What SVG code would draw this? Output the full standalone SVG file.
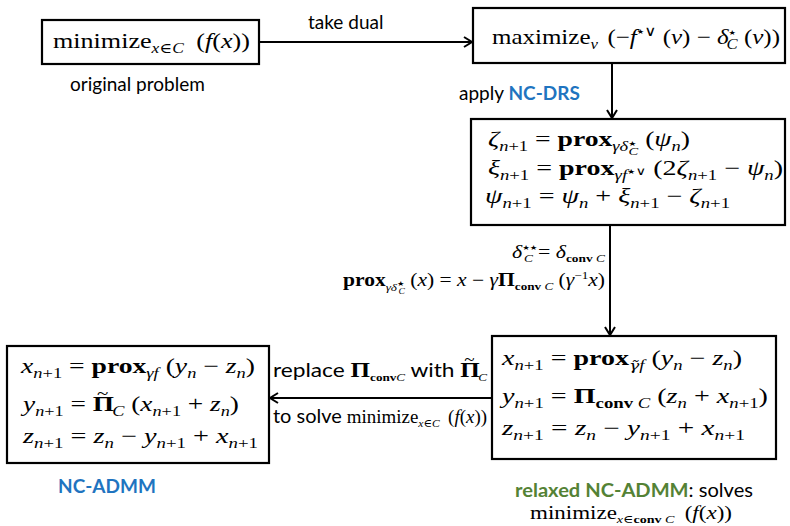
<svg xmlns="http://www.w3.org/2000/svg" width="790" height="526" viewBox="0 0 790 526">
<defs>
<marker id="ah" markerWidth="14" markerHeight="14" refX="11" refY="7" orient="auto" markerUnits="userSpaceOnUse">
<path d="M3,2 L11,7 L3,12" fill="none" stroke="#000" stroke-width="2"/>
</marker>
<style>
.box{fill:#fff;stroke:#000;stroke-width:2.2}
.ln{stroke:#000;stroke-width:2;fill:none}
.m{font-family:"Liberation Serif","DejaVu Serif",serif;font-size:21px;fill:#000}
.ml{font-family:"Liberation Serif","DejaVu Serif",serif;font-size:18px;fill:#000}
.s{font-family:"Lato","Liberation Sans",sans-serif;font-size:19px;fill:#000}
.i{font-style:italic}
.b{font-weight:bold}
.sb{font-size:14px}
.ss{font-size:11px}
.st{font-family:"DejaVu Sans",sans-serif;font-size:7px;font-style:normal;font-weight:normal}
.sr{font-family:"Liberation Serif","DejaVu Serif",serif}
.dj{font-family:"DejaVu Serif",serif}
.tl{font-family:"Liberation Serif","DejaVu Serif",serif;font-size:16px;font-weight:normal;font-style:normal}
.blue{fill:#1f74c0;font-weight:bold}
.green{fill:#548235;font-weight:bold}
</style>
</defs>

<g id="connectors">
<line class="ln" x1="259" y1="42" x2="472" y2="42" marker-end="url(#ah)"/>
<line class="ln" x1="612" y1="63" x2="612" y2="118" marker-end="url(#ah)"/>
<line class="ln" x1="610" y1="225" x2="610" y2="335" marker-end="url(#ah)"/>
<line class="ln" x1="492" y1="398" x2="270" y2="398" marker-end="url(#ah)"/>
<text class="s" x="308" y="29">take dual</text>
<text class="s" x="459" y="100">apply <tspan class="blue">NC-DRS</tspan></text>
<text class="ml" x="605" y="258" text-anchor="end" textLength="93" lengthAdjust="spacingAndGlyphs"><tspan class="i">δ</tspan><tspan class="st" baseline-shift="8">★★</tspan><tspan class="ss i" dx="-11" baseline-shift="-4">C</tspan><tspan dx="4">=</tspan> <tspan class="i">δ</tspan><tspan class="ss" baseline-shift="-4"><tspan class="b">conv</tspan> <tspan class="i">C</tspan></tspan></text>
<text class="ml" x="605" y="286" text-anchor="end" textLength="262" lengthAdjust="spacingAndGlyphs"><tspan class="b">prox</tspan><tspan class="ss" baseline-shift="-5"><tspan class="i">γδ</tspan><tspan class="st" font-size="6" baseline-shift="5">★</tspan><tspan font-size="8" class="i" dx="-5" baseline-shift="-3">C</tspan></tspan> (<tspan class="i">x</tspan>) = <tspan class="i">x</tspan> − <tspan class="i">γ</tspan><tspan class="b">Π</tspan><tspan class="ss" baseline-shift="-4"><tspan class="b">conv</tspan> <tspan class="i">C</tspan></tspan> (<tspan class="i">γ</tspan><tspan class="ss" baseline-shift="7">−1</tspan><tspan class="i">x</tspan>)</text>
<text class="s" x="273" y="377" textLength="214" lengthAdjust="spacingAndGlyphs">replace <tspan class="m b">Π</tspan><tspan class="ss sr" baseline-shift="-4"><tspan class="b">conv</tspan><tspan class="i">C</tspan></tspan> with <tspan class="m b">Π</tspan><tspan class="tl" dx="-13" baseline-shift="12">~</tspan><tspan class="ss i sr" dx="3" baseline-shift="-4">C</tspan></text>
<text class="s" x="273" y="423" textLength="214" lengthAdjust="spacingAndGlyphs">to solve <tspan class="ml">minimize</tspan><tspan class="ss sr" baseline-shift="-4"><tspan class="i">x</tspan>∈<tspan class="i">C</tspan></tspan><tspan class="ml" dx="8">(<tspan class="i">f</tspan>(<tspan class="i">x</tspan>))</tspan></text>
</g>

<g id="original">
<rect class="box" x="42" y="20" width="217" height="44"/>
<text class="m" x="53" y="48" textLength="197" lengthAdjust="spacingAndGlyphs">minimize<tspan class="sb" baseline-shift="-5"><tspan class="i">x</tspan>∈<tspan class="i">C</tspan></tspan><tspan dx="10">(<tspan class="i">f</tspan>(<tspan class="i">x</tspan>))</tspan></text>
<text class="s" x="70" y="91">original problem</text>
</g>

<g id="dual">
<rect class="box" x="473" y="8" width="312" height="55"/>
<text class="m" x="492" y="44" textLength="288" lengthAdjust="spacingAndGlyphs">maximize<tspan class="sb i" baseline-shift="-5">ν</tspan><tspan dx="8">(−<tspan class="i">f</tspan><tspan class="st" font-size="9" baseline-shift="10">★</tspan><tspan class="sb" baseline-shift="8">∨</tspan> (<tspan class="i">ν</tspan>) − <tspan class="i">δ</tspan><tspan class="st" font-size="9" baseline-shift="9">★</tspan><tspan class="sb i" dx="-8" baseline-shift="-5">C</tspan> (<tspan class="i">ν</tspan>))</tspan></text>
</g>

<g id="drs">
<rect class="box" x="471" y="119" width="314" height="106"/>
<text class="m" x="488" y="146" textLength="202" lengthAdjust="spacingAndGlyphs"><tspan class="i">ζ</tspan><tspan class="sb" baseline-shift="-5"><tspan class="i">n</tspan>+1</tspan> = <tspan class="b">prox</tspan><tspan class="sb" baseline-shift="-5"><tspan class="i">γδ</tspan><tspan class="st" baseline-shift="5">★</tspan><tspan class="ss i" dx="-6" baseline-shift="-4">C</tspan></tspan> (<tspan class="i">ψ</tspan><tspan class="sb i" baseline-shift="-5">n</tspan>)</text>
<text class="m" x="488" y="175" textLength="295" lengthAdjust="spacingAndGlyphs"><tspan class="i">ξ</tspan><tspan class="sb" baseline-shift="-5"><tspan class="i">n</tspan>+1</tspan> = <tspan class="b">prox</tspan><tspan class="sb" baseline-shift="-5"><tspan class="i">γf</tspan><tspan class="st" baseline-shift="6">★</tspan><tspan class="ss" baseline-shift="5">∨</tspan></tspan> (2<tspan class="i">ζ</tspan><tspan class="sb" baseline-shift="-5"><tspan class="i">n</tspan>+1</tspan> − <tspan class="i">ψ</tspan><tspan class="sb i" baseline-shift="-5">n</tspan>)</text>
<text class="m" x="485" y="203" textLength="245" lengthAdjust="spacingAndGlyphs"><tspan class="i">ψ</tspan><tspan class="sb" baseline-shift="-5"><tspan class="i">n</tspan>+1</tspan> = <tspan class="i">ψ</tspan><tspan class="sb i" baseline-shift="-5">n</tspan> + <tspan class="i">ξ</tspan><tspan class="sb" baseline-shift="-5"><tspan class="i">n</tspan>+1</tspan> − <tspan class="i">ζ</tspan><tspan class="sb" baseline-shift="-5"><tspan class="i">n</tspan>+1</tspan></text>
</g>

<g id="relaxed-admm">
<rect class="box" x="492" y="336" width="284" height="123"/>
<text class="m" x="502" y="365" textLength="240" lengthAdjust="spacingAndGlyphs"><tspan class="i">x</tspan><tspan class="sb" baseline-shift="-5"><tspan class="i">n</tspan>+1</tspan> = <tspan class="b">prox</tspan><tspan class="sb i" baseline-shift="-5"><tspan class="dj" font-size="13">γ̃</tspan>f</tspan> (<tspan class="i">y</tspan><tspan class="sb i" baseline-shift="-5">n</tspan> − <tspan class="i">z</tspan><tspan class="sb i" baseline-shift="-5">n</tspan>)</text>
<text class="m" x="502" y="403" textLength="266" lengthAdjust="spacingAndGlyphs"><tspan class="i">y</tspan><tspan class="sb" baseline-shift="-5"><tspan class="i">n</tspan>+1</tspan> = <tspan class="b">Π</tspan><tspan class="sb" baseline-shift="-5"><tspan class="b">conv</tspan> <tspan class="i">C</tspan></tspan> (<tspan class="i">z</tspan><tspan class="sb i" baseline-shift="-5">n</tspan> + <tspan class="i">x</tspan><tspan class="sb" baseline-shift="-5"><tspan class="i">n</tspan>+1</tspan>)</text>
<text class="m" x="502" y="435" textLength="243" lengthAdjust="spacingAndGlyphs"><tspan class="i">z</tspan><tspan class="sb" baseline-shift="-5"><tspan class="i">n</tspan>+1</tspan> = <tspan class="i">z</tspan><tspan class="sb i" baseline-shift="-5">n</tspan> − <tspan class="i">y</tspan><tspan class="sb" baseline-shift="-5"><tspan class="i">n</tspan>+1</tspan> + <tspan class="i">x</tspan><tspan class="sb" baseline-shift="-5"><tspan class="i">n</tspan>+1</tspan></text>
<text class="s" x="634" y="497" text-anchor="middle" textLength="238" lengthAdjust="spacingAndGlyphs"><tspan class="green">relaxed NC-ADMM</tspan>: solves</text>
<text class="ml" x="631" y="519" text-anchor="middle" textLength="202" lengthAdjust="spacingAndGlyphs">minimize<tspan class="ss" baseline-shift="-4"><tspan class="i">x</tspan>∈<tspan class="b">conv</tspan> <tspan class="i">C</tspan></tspan><tspan dx="8">(<tspan class="i">f</tspan>(<tspan class="i">x</tspan>))</tspan></text>
</g>

<g id="nc-admm">
<rect class="box" x="7" y="346" width="262" height="117"/>
<text class="m" x="21" y="373" textLength="234" lengthAdjust="spacingAndGlyphs"><tspan class="i">x</tspan><tspan class="sb" baseline-shift="-5"><tspan class="i">n</tspan>+1</tspan> = <tspan class="b">prox</tspan><tspan class="sb i" baseline-shift="-5">γf</tspan> (<tspan class="i">y</tspan><tspan class="sb i" baseline-shift="-5">n</tspan> − <tspan class="i">z</tspan><tspan class="sb i" baseline-shift="-5">n</tspan>)</text>
<text class="m" x="23" y="411" textLength="216" lengthAdjust="spacingAndGlyphs"><tspan class="i">y</tspan><tspan class="sb" baseline-shift="-5"><tspan class="i">n</tspan>+1</tspan> = <tspan class="b">Π</tspan><tspan class="tl" dx="-13" baseline-shift="12">~</tspan><tspan class="sb i" dx="3" baseline-shift="-5">C</tspan> (<tspan class="i">x</tspan><tspan class="sb" baseline-shift="-5"><tspan class="i">n</tspan>+1</tspan> + <tspan class="i">z</tspan><tspan class="sb i" baseline-shift="-5">n</tspan>)</text>
<text class="m" x="23" y="443" textLength="235" lengthAdjust="spacingAndGlyphs"><tspan class="i">z</tspan><tspan class="sb" baseline-shift="-5"><tspan class="i">n</tspan>+1</tspan> = <tspan class="i">z</tspan><tspan class="sb i" baseline-shift="-5">n</tspan> − <tspan class="i">y</tspan><tspan class="sb" baseline-shift="-5"><tspan class="i">n</tspan>+1</tspan> + <tspan class="i">x</tspan><tspan class="sb" baseline-shift="-5"><tspan class="i">n</tspan>+1</tspan></text>
<text class="s blue" x="58" y="493">NC-ADMM</text>
</g>
</svg>
